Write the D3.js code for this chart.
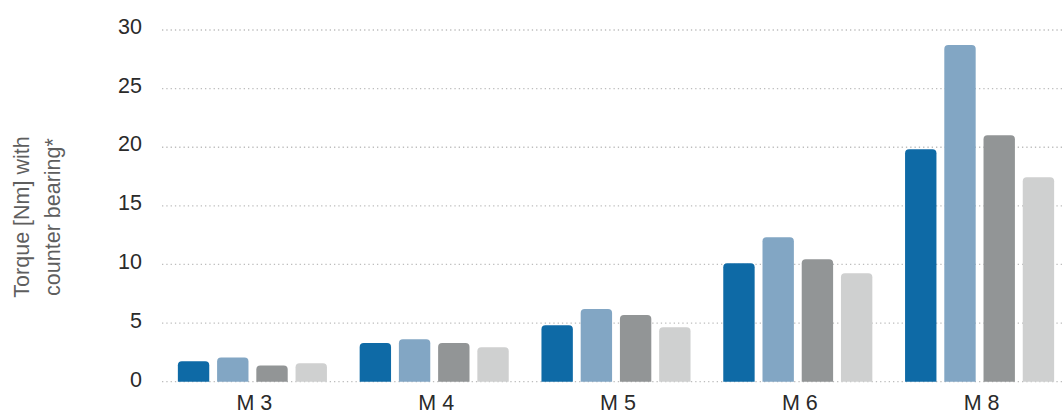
<!DOCTYPE html>
<html>
<head>
<meta charset="utf-8">
<script src="https://cdn.jsdelivr.net/npm/d3@7"></script>
<style>
  html, body { margin: 0; padding: 0; background: #fff; }
  svg { display: block; font-family: "Liberation Sans", Arial, Helvetica, sans-serif; }
</style>
</head>
<body>
<svg id="chart" width="1063" height="415"></svg>
<script>
// Thread sizes along the x axis
const categories = ["M 3", "M 4", "M 5", "M 6", "M 8"];
// Four series per thread size (torque in Nm)
const seriesA = [1.74, 3.30, 4.81, 10.10, 19.83];
const seriesB = [2.06, 3.62, 6.20, 12.32, 28.73];
const seriesC = [1.38, 3.30, 5.69, 10.44, 21.02];
const seriesD = [1.58, 2.94, 4.64, 9.25, 17.44];
const seriesNames = ["A", "B", "C", "D"];
const seriesColors = ["#0e6aa6", "#82a6c4", "#929596", "#cfd0d0"];
const yTicks = [0, 5, 10, 15, 20, 25, 30];
const titleLines = ["Torque [Nm] with", "counter bearing*"];

const allSeries = [seriesA, seriesB, seriesC, seriesD];
const rows = categories.map((c, i) => ({
  cat: c,
  values: allSeries.map((s, k) => ({ key: seriesNames[k], value: s[i], color: seriesColors[k] }))
}));

const svg = d3.select("#chart");

const y = d3.scaleLinear().domain([0, 30]).range([381.7, 30]);
// tick labels sit slightly above their gridlines
const yLabel = d3.scaleLinear().domain([0, 30]).range([379.6, 25.8]);

const x0 = d3.scaleBand().domain(categories).range([161.5, 1070.5])
  .paddingInner(0.18).paddingOuter(0.09);
const x1 = d3.scaleBand().domain(seriesNames).range([0, x0.bandwidth()])
  .paddingInner(0.2);

// Dotted gridlines
svg.append("g").selectAll("line").data(yTicks).join("line")
  .attr("x1", 162).attr("x2", 1063)
  .attr("y1", d => y(d)).attr("y2", d => y(d))
  .attr("stroke", "#bdbdbd")
  .attr("stroke-width", 1.3)
  .attr("stroke-dasharray", "1.3,3");

// Y tick labels
svg.append("g").selectAll("text").data(yTicks).join("text")
  .attr("x", 142).attr("y", d => yLabel(d))
  .attr("dy", "0.36em")
  .attr("text-anchor", "end")
  .attr("font-size", 21.5)
  .attr("fill", "#2a2a2a")
  .text(d => d);

// Bars with rounded top corners
function barPath(x, w, yTop, yBase, r) {
  r = Math.min(r, w / 2, (yBase - yTop));
  return `M${x},${yBase}V${yTop + r}Q${x},${yTop} ${x + r},${yTop}` +
         `H${x + w - r}Q${x + w},${yTop} ${x + w},${yTop + r}V${yBase}Z`;
}

const groups = svg.append("g").selectAll("g").data(rows).join("g")
  .attr("transform", d => `translate(${x0(d.cat)},0)`);

groups.selectAll("path").data(d => d.values).join("path")
  .attr("d", d => barPath(x1(d.key), x1.bandwidth(), y(d.value), y(0), 4))
  .attr("fill", d => d.color);

// X category labels
svg.append("g").selectAll("text").data(categories).join("text")
  .attr("x", d => x0(d) + x0.bandwidth() / 2 + 2)
  .attr("y", 410.3)
  .attr("text-anchor", "middle")
  .attr("font-size", 21.5)
  .attr("fill", "#2a2a2a")
  .text(d => d);

// Rotated y-axis title
const title = svg.append("text")
  .attr("transform", "translate(0,217) rotate(-90)")
  .attr("text-anchor", "middle")
  .attr("font-size", 21.5)
  .attr("fill", "#5e5e5e");
title.selectAll("tspan").data(titleLines).join("tspan")
  .attr("x", 0)
  .attr("y", (d, i) => 29 + i * 31)
  .text(d => d);
</script>
</body>
</html>
